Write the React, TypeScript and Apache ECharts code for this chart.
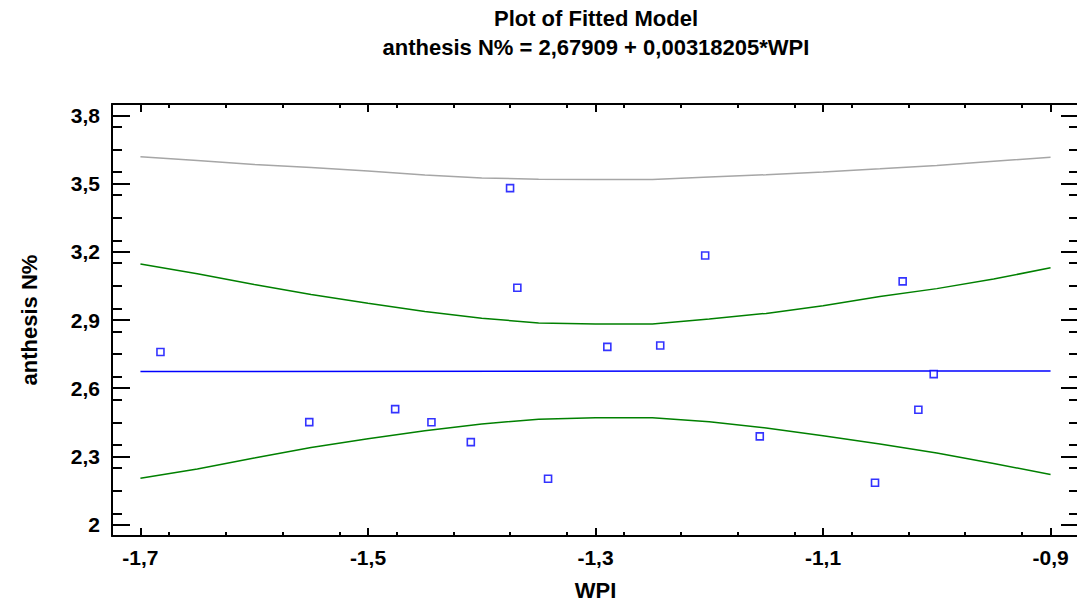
import React, { useEffect, useRef } from "react";
import * as echarts from "echarts";

// ---- data ----
const bandX = [-1.7, -1.65, -1.6, -1.55, -1.5, -1.45, -1.4, -1.35, -1.3, -1.25, -1.2, -1.15, -1.1, -1.05, -1.0, -0.95, -0.9];
const upperConf = [3.146, 3.103, 3.056, 3.012, 2.974, 2.937, 2.908, 2.887, 2.882, 2.882, 2.904, 2.929, 2.963, 3.003, 3.038, 3.080, 3.130];
const lowerConf = [2.204, 2.245, 2.293, 2.339, 2.378, 2.413, 2.443, 2.464, 2.470, 2.470, 2.453, 2.425, 2.391, 2.355, 2.315, 2.269, 2.220];
const upperPred = [3.618, 3.601, 3.584, 3.571, 3.555, 3.538, 3.525, 3.519, 3.518, 3.518, 3.529, 3.539, 3.551, 3.565, 3.580, 3.598, 3.616];

const fitX = [-1.7, -0.9];
const fitY = [2.6737, 2.6762];

const obsWPI = [-1.6824, -1.5516, -1.4761, -1.4442, -1.4096, -1.3751, -1.3687, -1.3417, -1.2896, -1.2431, -1.2036, -1.1556, -1.0543, -1.0300, -1.0162, -1.0027];
const obsN = [2.759, 2.451, 2.508, 2.450, 2.363, 3.480, 3.042, 2.202, 2.782, 2.788, 3.184, 2.388, 2.184, 3.070, 2.505, 2.662];

const xMajor = [-1.7, -1.5, -1.3, -1.1, -0.9];
const yMajor = [2, 2.3, 2.6, 2.9, 3.2, 3.5, 3.8];

const titleLine1 = "Plot of Fitted Model";
const titleLine2 = "anthesis N% = 2,67909 + 0,00318205*WPI";

const FONT = '"Liberation Sans", Arial, Helvetica, sans-serif';

const fmt = (v: number) => String(Math.round(v * 10) / 10).replace(".", ",");

export default function App() {
  const ref = useRef<HTMLDivElement>(null);

  useEffect(() => {
    if (!ref.current) return;
    const chart = echarts.init(ref.current, undefined, { renderer: "svg" });

    const black = { color: "#000", width: 2 };
    const labelStyle = { fontFamily: FONT, fontWeight: "bold" as const, fontSize: 21, color: "#000" };
    const nameStyle = { fontFamily: FONT, fontWeight: "bold" as const, fontSize: 22, color: "#000" };
    const xMin = -1.725, xMax = -0.875, yMin = 1.95, yMax = 3.85;

    const xAxisBase = (position: string, major: boolean, showLine: boolean, showLabel: boolean) => ({
      type: "value",
      position,
      min: xMin,
      max: xMax,
      interval: 0.05,
      axisLine: { show: showLine, onZero: false, lineStyle: black },
      axisTick: major
        ? { show: true, inside: true, length: 8, customValues: xMajor, lineStyle: black }
        : { show: true, inside: true, length: 4, lineStyle: black },
      axisLabel: showLabel
        ? { show: true, customValues: xMajor, formatter: fmt, margin: 11, ...labelStyle }
        : { show: false },
      splitLine: { show: false },
    });

    const yAxisBase = (position: string, major: boolean, showLine: boolean, showLabel: boolean) => ({
      type: "value",
      position,
      min: yMin,
      max: yMax,
      interval: 0.1,
      axisLine: { show: showLine, onZero: false, lineStyle: black },
      axisTick: major
        ? { show: true, inside: true, length: 18, customValues: yMajor, lineStyle: black }
        : { show: true, inside: true, length: 10, lineStyle: black },
      axisLabel: showLabel
        ? { show: true, customValues: yMajor, formatter: fmt, margin: 12, ...labelStyle }
        : { show: false },
      splitLine: { show: false },
    });

    const bottomMain: any = xAxisBase("bottom", false, true, true);
    bottomMain.name = "WPI";
    bottomMain.nameLocation = "middle";
    bottomMain.nameGap = 43;
    bottomMain.nameTextStyle = { ...nameStyle };

    const leftMain: any = yAxisBase("left", false, true, true);
    leftMain.name = "anthesis N%";
    leftMain.nameLocation = "middle";
    leftMain.nameGap = 72;
    leftMain.nameTextStyle = { ...nameStyle };

    const pairs = (xs: number[], ys: number[]) => xs.map((x, i) => [x, ys[i]]);

    chart.setOption({
      animation: false,
      backgroundColor: "#fff",
      grid: { left: 112, top: 104, width: 967, height: 432, containLabel: false, outerBoundsMode: "none" },
      graphic: [
        {
          type: "text",
          x: 596,
          y: 18,
          style: { text: titleLine1, fill: "#000", font: `bold 22px ${FONT}`, textAlign: "center", textVerticalAlign: "middle" },
        },
        {
          type: "text",
          x: 596,
          y: 47,
          style: { text: titleLine2, fill: "#000", font: `bold 22px ${FONT}`, textAlign: "center", textVerticalAlign: "middle" },
        },
      ],
      xAxis: [
        bottomMain,
        xAxisBase("bottom", true, false, false),
        xAxisBase("top", false, true, false),
        xAxisBase("top", true, false, false),
      ],
      yAxis: [
        leftMain,
        yAxisBase("left", true, false, false),
        yAxisBase("right", false, true, false),
        yAxisBase("right", true, false, false),
      ],
      series: [
        {
          name: "upper prediction",
          type: "line",
          data: pairs(bandX, upperPred),
          symbol: "none",
          lineStyle: { color: "#a6a6a6", width: 1.5 },
          z: 2,
        },
        {
          name: "upper confidence",
          type: "line",
          data: pairs(bandX, upperConf),
          symbol: "none",
          lineStyle: { color: "#008000", width: 1.5 },
          z: 2,
        },
        {
          name: "lower confidence",
          type: "line",
          data: pairs(bandX, lowerConf),
          symbol: "none",
          lineStyle: { color: "#008000", width: 1.5 },
          z: 2,
        },
        {
          name: "fitted",
          type: "line",
          data: pairs(fitX, fitY),
          symbol: "none",
          lineStyle: { color: "#0000ff", width: 1.5 },
          z: 3,
        },
        {
          name: "observed",
          type: "scatter",
          data: pairs(obsWPI, obsN),
          symbol: "rect",
          symbolSize: 7,
          itemStyle: { color: "#fff", borderColor: "#0000ff", borderWidth: 1.6 },
          z: 4,
        },
      ],
    });

    return () => chart.dispose();
  }, []);

  return (
    <div
      ref={ref}
      style={{ position: "fixed", left: 0, top: 0, width: 1077, height: 603, background: "#fff" }}
    />
  );
}
